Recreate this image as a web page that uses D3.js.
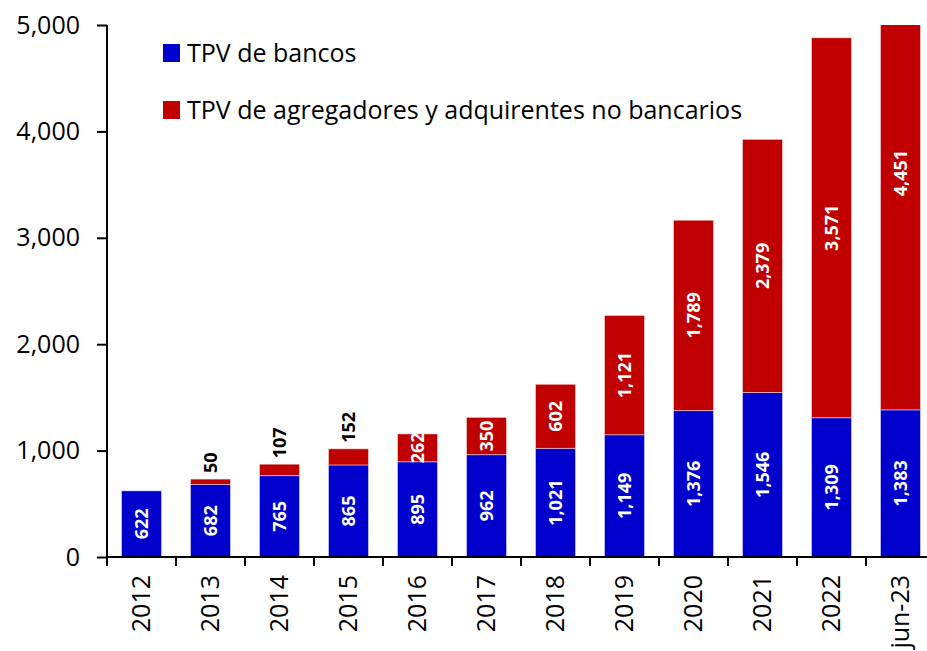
<!DOCTYPE html>
<html>
<head>
<meta charset="utf-8">
<script src="https://cdn.jsdelivr.net/npm/d3@7"></script>
<style>
  body { margin: 0; background: #fff; }
  svg text { font-family: "Open Sans", sans-serif; }
  .axis path, .axis line { stroke: #000; stroke-width: 2; }
  .axis text { font-size: 25px; fill: #000; }
</style>
</head>
<body>
<div id="grafico"></div>
<script>
// Datos del grafico
const categorias = ["2012", "2013", "2014", "2015", "2016", "2017", "2018", "2019", "2020", "2021", "2022", "jun-23"]
const bancos = [622, 682, 765, 865, 895, 962, 1021, 1149, 1376, 1546, 1309, 1383]
const agregadores = [0, 50, 107, 152, 262, 350, 602, 1121, 1789, 2379, 3571, 4451]
const series = ["TPV de bancos", "TPV de agregadores y adquirentes no bancarios"]
const colores = ["#0000CC", "#C00000"]
const ticksY = [0, 1000, 2000, 3000, 4000, 5000]

const anchoTotal = 927
const altoTotal = 651
const margins = { top: 25, right: -8, bottom: 94, left: 107 }
const ancho = anchoTotal - margins.left - margins.right
const alto = altoTotal - margins.top - margins.bottom

const svg = d3.select("#grafico")
  .append("svg")
  .attr("width", anchoTotal)
  .attr("height", altoTotal)

const g = svg.append("g")
  .attr("transform", `translate(${margins.left}, ${margins.top})`)

// Escaladores
const y = d3.scaleLinear().domain([0, 5000]).range([alto, 0])
const x = d3.scaleBand()
  .domain(categorias)
  .range([0, ancho])
  .paddingInner(0.42)
  .paddingOuter(0.21)

// Clip para la barra que sobrepasa el maximo
svg.append("defs").append("clipPath").attr("id", "clip")
  .append("rect").attr("x", 0).attr("y", 0).attr("width", ancho).attr("height", alto)

const datos = categorias.map((c, i) => ({ cat: c, bancos: bancos[i], agregadores: agregadores[i] }))
const stack = d3.stack().keys(["bancos", "agregadores"])(datos)

const barras = g.append("g").attr("clip-path", "url(#clip)")
barras.selectAll("g")
  .data(stack)
  .enter()
  .append("g")
  .attr("fill", (d, i) => colores[i])
  .selectAll("rect")
  .data((d) => d.filter((p) => p[1] > p[0]))
  .enter()
  .append("rect")
  .attr("x", (d) => x(d.data.cat))
  .attr("y", (d) => y(d[1]))
  .attr("width", x.bandwidth())
  .attr("height", (d) => y(d[0]) - y(d[1]))
  .attr("stroke", "rgba(255,255,255,0.45)")
  .attr("stroke-width", 1)

// Etiquetas de las barras
const fmt = d3.format(",")
const etiquetas = g.append("g")
  .style("font-size", "18px")
  .style("font-weight", "bold")

stack.forEach((serie, i) => {
  serie.forEach((p) => {
    const v = p[1] - p[0]
    if (v <= 0) return
    const cx = x(p.data.cat) + x.bandwidth() / 2
    const fuera = i === 1 && v < 200
    const cy = fuera ? y(p[1]) - 6 : (y(p[0]) + y(p[1])) / 2
    etiquetas.append("text")
      .attr("transform", `translate(${cx}, ${cy}) rotate(-90)`)
      .attr("text-anchor", fuera ? "start" : "middle")
      .attr("dy", "0.35em")
      .attr("fill", fuera ? "#000" : "#fff")
      .text(fmt(v))
  })
})

// Eje Y
const yAxis = d3.axisLeft(y)
  .tickValues(ticksY)
  .tickSize(10)
  .tickSizeOuter(0)
  .tickPadding(17)
  .tickFormat(fmt)
const yAxisGroup = g.append("g").classed("axis", true).call(yAxis)
yAxisGroup.select(".domain").attr("d", `M0,0V${alto + 9}`)

// Eje X con marcas entre categorias
const paso = x.step()
const xAxisGroup = g.append("g").classed("axis", true)
  .attr("transform", `translate(0, ${alto})`)
xAxisGroup.append("line")
  .attr("x1", 0).attr("x2", ancho)
xAxisGroup.selectAll("line.marca")
  .data(d3.range(categorias.length + 1))
  .enter()
  .append("line")
  .attr("class", "marca")
  .attr("x1", (i) => i * paso).attr("x2", (i) => i * paso)
  .attr("y1", 0).attr("y2", 9)
xAxisGroup.selectAll("text")
  .data(categorias)
  .enter()
  .append("text")
  .attr("transform", (d) => `translate(${x(d) + x.bandwidth() / 2}, 18) rotate(-90)`)
  .attr("text-anchor", "end")
  .attr("dy", "0.35em")
  .text((d) => d)

// Leyenda
const leyenda = svg.append("g").attr("transform", "translate(163, 44)")
series.forEach((s, i) => {
  const item = leyenda.append("g").attr("transform", `translate(0, ${i * 57})`)
  item.append("rect")
    .attr("width", 17).attr("height", 18)
    .attr("fill", colores[i])
  item.append("text")
    .attr("x", 24).attr("y", 9)
    .attr("dy", "0.35em")
    .style("font-size", "25px")
    .text(s)
})
</script>
</body>
</html>
